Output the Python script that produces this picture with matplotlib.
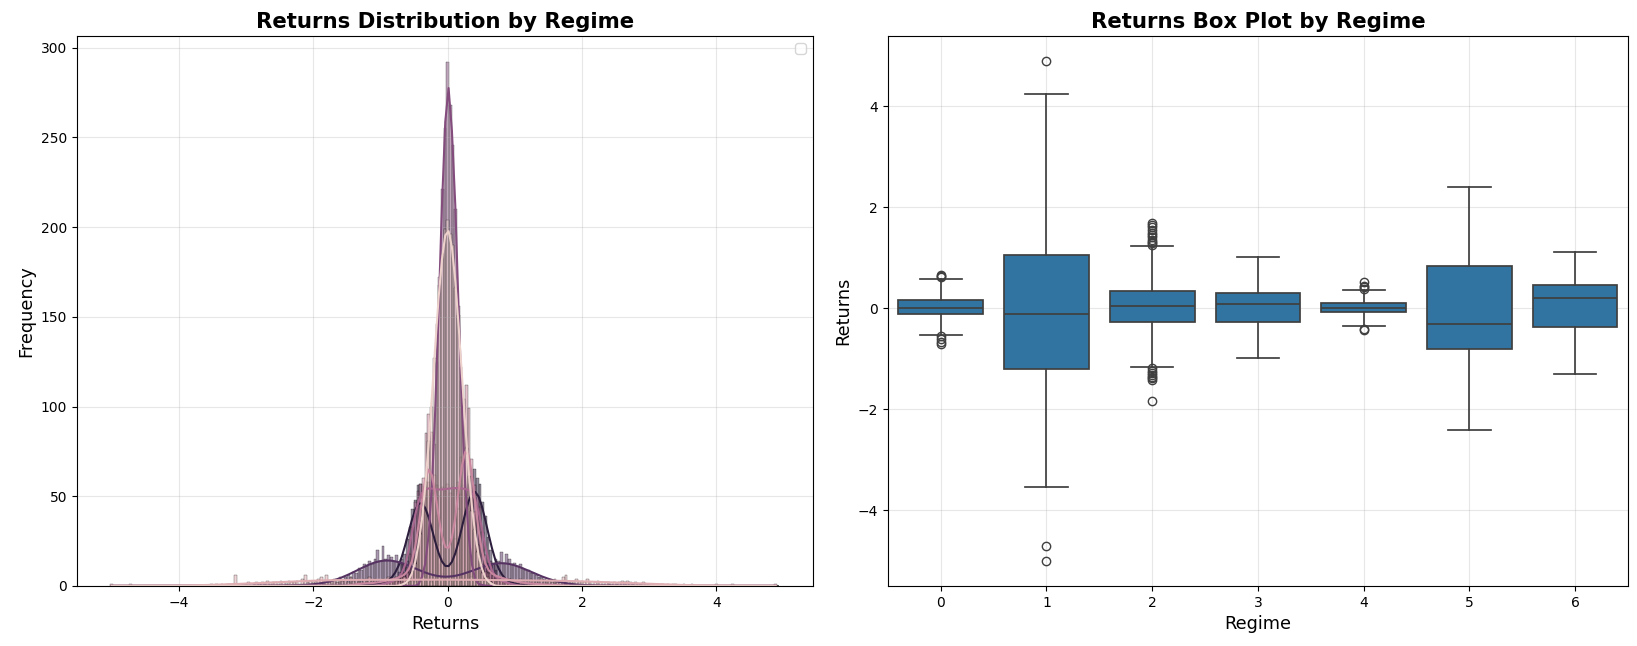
import numpy as np
import pandas as pd
import matplotlib
matplotlib.use("Agg")
import matplotlib.pyplot as plt
import seaborn as sns

# shared histogram bins (width 0.04, centres on multiples of 0.04)
bin_width = 0.04
bin_edges = np.linspace(-5.02, 4.94, 250)

regimes = [0, 1, 2, 3, 4, 5, 6]

# centre of the first bin and the counts per bin
regime0_start = -0.68
regime0_counts = [1, 1, 2, 3, 8, 12, 21, 29, 44, 58, 81, 100, 127, 146, 172, 185, 199,
                  204, 196, 190, 166, 151, 122, 104, 77, 61, 42, 31, 19, 14, 7, 4, 2, 2]

regime1_start = -5.00
regime1_counts = [
    1, 0, 0, 0, 0, 0, 0, 1, 0, 0, 0, 0, 0, 0, 0, 0, 0, 0, 0, 0, 0, 0, 0, 0, 0,
    0, 0, 0, 0, 0, 0, 0, 0, 0, 0, 0, 0, 1, 0, 1, 0, 1, 0, 1, 1, 0, 6, 0, 1, 1,
    1, 2, 0, 1, 2, 1, 2, 1, 3, 1, 2, 2, 1, 3, 2, 1, 3, 2, 2, 3, 1, 4, 6, 2, 3,
    2, 3, 4, 5, 3, 6, 2, 3, 4, 2, 5, 3, 4, 2, 5, 3, 4, 3, 2, 4, 3, 5, 3, 4, 2,
    3, 4, 2, 5, 3, 4, 3, 2, 4, 5, 3, 4, 3, 2, 4, 3, 5, 3, 4, 2, 4, 3, 5, 4, 3,
    4, 3, 5, 3, 4, 2, 4, 3, 3, 5, 4, 2, 3, 4, 3, 5, 2, 4, 3, 3, 4, 2, 3, 4, 3,
    3, 2, 4, 3, 3, 2, 4, 3, 2, 3, 4, 2, 3, 3, 2, 4, 2, 3, 5, 6, 3, 2, 3, 4, 2,
    3, 2, 4, 2, 1, 2, 3, 2, 1, 2, 2, 1, 2, 1, 2, 3, 2, 3, 2, 1, 2, 1, 1, 2, 1,
    1, 0, 1, 1, 0, 1, 0, 1, 0, 1, 1, 0, 0, 1, 0, 0, 1, 0, 0, 0, 0, 0, 0, 0, 0,
    1, 0, 0, 0, 0, 0, 1, 0, 0, 0, 0, 0, 0, 0, 0, 0, 0, 0, 0, 0, 0, 0, 1, 0]

regime2_start = -1.84
regime2_counts = [1, 0, 0, 0, 0, 0, 0, 0, 0, 0, 0,
                  1, 1, 2, 1, 1, 2, 1, 2, 1, 2,
                  2, 3, 2, 3, 4, 3, 5, 4, 6, 5,
                  7, 6, 8, 11, 20, 36, 60, 85, 96, 86,
                  62, 39, 23, 15, 12, 11, 13, 16, 26, 43,
                  72, 100, 112, 99, 71, 41, 23, 13, 9, 8,
                  7, 7, 6, 5, 5, 5, 4, 3, 4, 3,
                  2, 3, 2, 1, 2, 1, 1, 2, 1, 1,
                  0, 1, 1, 1, 0, 1, 0, 1]

regime3_start = -1.00
regime3_counts = [1, 1, 1, 2, 2, 3, 3, 4, 5, 7, 10, 18, 33, 47, 53, 57, 51, 55, 58, 52,
                  54, 56, 50, 55, 53, 57, 52, 55, 54, 58, 51, 56, 53, 55, 52, 56, 50, 44,
                  30, 17, 10, 7, 5, 4, 3, 3, 2, 2, 1, 1, 1]

regime4_start = -0.40
regime4_counts = [3, 7, 14, 27, 50, 79, 125, 168, 221, 255, 292, 268, 246, 210, 156,
                  114, 70, 44, 22, 12, 3, 2, 0, 1]

regime5_start = -2.40
regime5_counts = [1, 0, 0, 1, 0, 0, 1, 0, 0, 1,
                  0, 1, 0, 1, 1, 1, 2, 1, 3, 2,
                  4, 3, 5, 6, 5, 8, 7, 10, 9, 12,
                  11, 14, 12, 15, 20, 14, 22, 15, 17, 16,
                  14, 17, 13, 15, 12, 14, 11, 10, 11, 8,
                  8, 6, 7, 5, 5, 4, 4, 3, 3, 4,
                  3, 3, 4, 4, 5, 5, 6, 6, 8, 7,
                  9, 10, 10, 12, 11, 13, 14, 13, 15, 14,
                  19, 13, 18, 15, 12, 13, 11, 12, 10, 9,
                  9, 7, 7, 6, 5, 5, 4, 3, 3, 2,
                  2, 2, 1, 1, 1, 0, 1, 0, 0, 1,
                  0, 0, 0, 1, 0, 0, 0, 0, 0, 0,
                  1]

regime6_start = -1.28
regime6_counts = [1, 0, 1, 0, 1, 1, 1, 2, 1, 2,
                  2, 3, 3, 5, 8, 12, 18, 26, 33, 43,
                  48, 56, 57, 53, 50, 41, 34, 24, 17, 12,
                  7, 5, 5, 6, 8, 13, 20, 27, 39, 47,
                  57, 61, 65, 60, 57, 47, 39, 27, 20, 13,
                  9, 5, 4, 3, 2, 2, 1, 1, 1, 1]

starts = [regime0_start, regime1_start, regime2_start, regime3_start,
          regime4_start, regime5_start, regime6_start]
counts = [regime0_counts, regime1_counts, regime2_counts, regime3_counts,
          regime4_counts, regime5_counts, regime6_counts]

# box plot statistics per regime
box_median = [0.01, -0.12, 0.05, 0.08, 0.01, -0.31, 0.21]
box_q1 = [-0.12, -1.20, -0.27, -0.27, -0.075, -0.80, -0.37]
box_q3 = [0.17, 1.06, 0.34, 0.31, 0.11, 0.84, 0.46]
box_whislo = [-0.53, -3.54, -1.16, -0.98, -0.35, -2.41, -1.30]
box_whishi = [0.59, 4.24, 1.24, 1.02, 0.37, 2.41, 1.11]
box_fliers = [
    [0.62, 0.64, 0.66, -0.55, -0.61, -0.66, -0.70],
    [4.90, -4.70, -5.00],
    [1.26, 1.29, 1.32, 1.36, 1.41, 1.46, 1.50, 1.55, 1.62, 1.66, 1.69,
     -1.19, -1.23, -1.27, -1.31, -1.35, -1.38, -1.41, -1.84],
    [],
    [0.39, 0.42, 0.44, 0.53, -0.40, -0.42],
    [],
    [],
]

TITLE_SIZE = 15.3
LABEL_SIZE = 12.7


def build_returns():
    frames = []
    for regime, start, cnt in zip(regimes, starts, counts):
        centres = start + bin_width * np.arange(len(cnt))
        frames.append(pd.DataFrame({"Returns": np.repeat(centres, cnt), "Regime": regime}))
    return pd.concat(frames, ignore_index=True)


def plot_distribution(ax, df):
    sns.histplot(data=df, x="Returns", hue="Regime", bins=bin_edges, kde=True,
                 ax=ax, legend=False)
    ax.set_title("Returns Distribution by Regime", fontsize=TITLE_SIZE, fontweight="bold")
    ax.set_xlabel("Returns", fontsize=LABEL_SIZE)
    ax.set_ylabel("Frequency", fontsize=LABEL_SIZE)
    ax.legend()
    ax.grid(True, alpha=0.3)


def plot_boxes(ax):
    line_color = (0.248, 0.248, 0.248)
    stats = []
    for i, regime in enumerate(regimes):
        stats.append(dict(med=box_median[i], q1=box_q1[i], q3=box_q3[i],
                          whislo=box_whislo[i], whishi=box_whishi[i],
                          fliers=box_fliers[i], label=str(regime)))
    ax.bxp(stats, positions=regimes, widths=0.8, capwidths=0.4, patch_artist=True,
           boxprops=dict(facecolor="#3274a1", edgecolor=line_color, linewidth=1.25),
           whiskerprops=dict(color=line_color, linewidth=1.25),
           capprops=dict(color=line_color, linewidth=1.25),
           medianprops=dict(color=line_color, linewidth=1.25),
           flierprops=dict(marker="o", markerfacecolor="none",
                           markeredgecolor=line_color, markersize=6))
    ax.set_xlim(-0.5, 6.5)
    ax.set_title("Returns Box Plot by Regime", fontsize=TITLE_SIZE, fontweight="bold")
    ax.set_xlabel("Regime", fontsize=LABEL_SIZE)
    ax.set_ylabel("Returns", fontsize=LABEL_SIZE)
    ax.grid(True, alpha=0.3)


fig = plt.figure(figsize=(16.37, 6.46), dpi=100)
ax1 = fig.add_axes([0.047, 0.093, 0.4496, 0.8514])
ax2 = fig.add_axes([0.5424, 0.093, 0.4521, 0.8514])

returns_df = build_returns()
plot_distribution(ax1, returns_df)
plot_boxes(ax2)

fig.savefig("out.png", dpi=100)
